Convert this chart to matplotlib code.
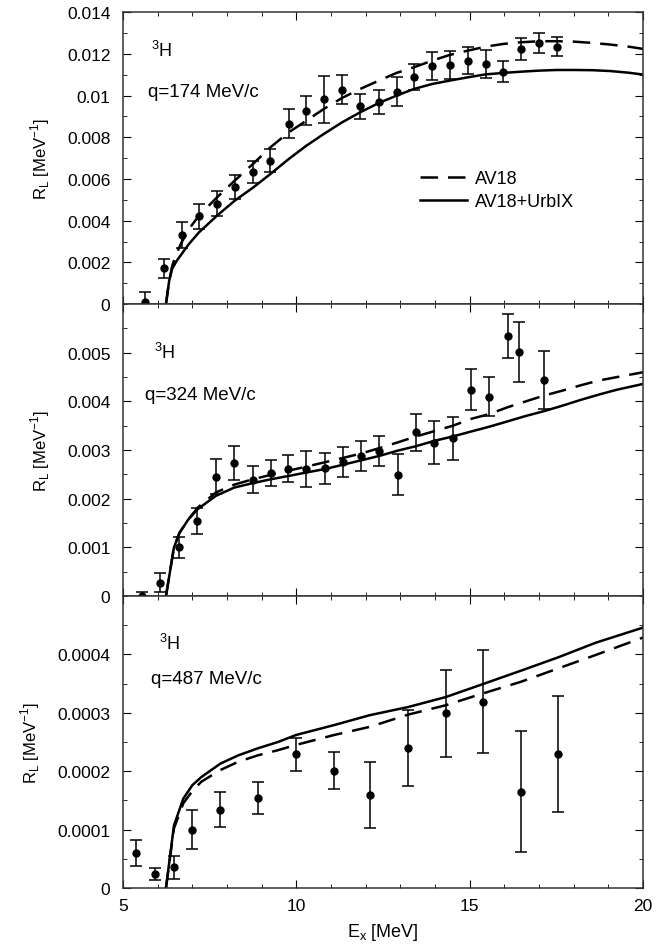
import numpy as np
import matplotlib
matplotlib.use("Agg")
import matplotlib.pyplot as plt
from matplotlib.ticker import MultipleLocator, FuncFormatter

plt.rcParams['font.family'] = ['Liberation Sans', 'DejaVu Sans']

# --- panel 1: q = 174 MeV/c ---
ex1 = [5.63, 6.18, 6.69, 7.19, 7.71, 8.22, 8.76, 9.25, 9.78, 10.29, 10.79, 11.32,
       11.84, 12.38, 12.89, 13.39, 13.92, 14.42, 14.95, 15.46, 15.97, 16.49, 17.01, 17.51]
rl1 = [0.00008, 0.00171, 0.00331, 0.00421, 0.00482, 0.0056, 0.00635, 0.00688, 0.00866,
       0.00928, 0.00982, 0.01029, 0.00949, 0.00968, 0.01019, 0.01088, 0.01141, 0.01147,
       0.01168, 0.01152, 0.01115, 0.01224, 0.01253, 0.01235]
err1 = [0.0005, 0.00046, 0.00064, 0.0006, 0.00059, 0.00058, 0.00052, 0.00054, 0.00069,
        0.00068, 0.00114, 0.0007, 0.00059, 0.00058, 0.0007, 0.00062, 0.00068, 0.00066,
        0.00063, 0.00068, 0.0005, 0.00054, 0.00048, 0.00044]
av18_x1 = [6.24, 6.33, 6.42, 6.55, 6.69, 6.9, 7.19, 7.71, 8.22, 8.76, 9.25, 9.78, 10.29,
           10.79, 11.32, 11.84, 12.38, 12.89, 13.39, 13.92, 14.42, 14.95, 15.46, 15.97,
           16.49, 17.01, 17.51, 18.0, 18.53, 19.05, 19.58, 20.0]
av18_y1 = [0.0, 0.0011, 0.00184, 0.00245, 0.00296, 0.0036, 0.00424, 0.00512, 0.00592,
           0.00674, 0.00752, 0.00824, 0.0088, 0.00936, 0.00989, 0.01032, 0.01072, 0.01109,
           0.01136, 0.01168, 0.01195, 0.01216, 0.01235, 0.01248, 0.01256, 0.01261, 0.01261,
           0.01259, 0.01253, 0.01245, 0.01235, 0.01224]
urb_x1 = [6.24, 6.33, 6.42, 6.55, 6.69, 6.9, 7.19, 7.71, 8.22, 8.76, 9.25, 9.78, 10.29,
          10.79, 11.32, 11.84, 12.38, 12.89, 13.39, 13.92, 14.42, 14.95, 15.46, 15.97,
          16.49, 17.01, 17.51, 18.0, 18.53, 19.05, 19.58, 20.0]
urb_y1 = [0.0, 0.0011, 0.0017, 0.00208, 0.0024, 0.00288, 0.00344, 0.00424, 0.00496,
          0.0056, 0.00624, 0.00696, 0.0076, 0.00816, 0.00872, 0.0092, 0.00965, 0.01,
          0.01032, 0.01056, 0.01072, 0.01088, 0.01102, 0.01109, 0.01115, 0.0112, 0.01123,
          0.01123, 0.01122, 0.01118, 0.0111, 0.01101]

# --- panel 2: q = 324 MeV/c ---
ex2 = [5.56, 6.08, 6.63, 7.13, 7.68, 8.21, 8.74, 9.26, 9.77, 10.29, 10.82, 11.35,
       11.87, 12.39, 12.93, 13.45, 13.98, 14.51, 15.03, 15.56, 16.11, 16.43, 17.14]
rl2 = [0.0, 0.000275, 0.001, 0.00155, 0.00245, 0.00273, 0.00239, 0.00253, 0.00262,
       0.00261, 0.00263, 0.00275, 0.00288, 0.00299, 0.00249, 0.00337, 0.00315, 0.00324,
       0.00424, 0.0041, 0.00534, 0.00501, 0.00444]
err2 = [0.00008, 0.0002, 0.00021, 0.00027, 0.00036, 0.00035, 0.00028, 0.00026, 0.00028,
        0.00037, 0.00032, 0.00031, 0.00031, 0.00031, 0.00042, 0.00038, 0.00044, 0.00045,
        0.00042, 0.0004, 0.00045, 0.00062, 0.00059]
av18_x2 = [6.24, 6.47, 6.63, 6.89, 7.16, 7.68, 8.21, 8.74, 9.26, 9.79, 10.29, 10.82, 11.35,
           11.87, 12.39, 12.93, 13.45, 13.98, 14.51, 15.03, 15.56, 16.09, 16.61, 17.14,
           17.66, 18.19, 18.72, 19.24, 20.0]
av18_y2 = [0.0, 0.001, 0.0013, 0.00158, 0.00182, 0.00213, 0.00229, 0.0024, 0.00249, 0.00258,
           0.00266, 0.00275, 0.00284, 0.00293, 0.00304, 0.00316, 0.00328, 0.00339, 0.0035,
           0.00364, 0.00374, 0.00388, 0.004, 0.00412, 0.00422, 0.00433, 0.00443, 0.0045,
           0.0046]
urb_x2 = [6.24, 6.47, 6.63, 6.89, 7.16, 7.68, 8.21, 8.74, 9.26, 9.79, 10.29, 10.82, 11.35,
          11.87, 12.39, 12.93, 13.45, 13.98, 14.51, 15.03, 15.56, 16.09, 16.61, 17.14,
          17.66, 18.19, 18.72, 19.24, 20.0]
urb_y2 = [0.0, 0.001, 0.0013, 0.00158, 0.00179, 0.00206, 0.00223, 0.00232, 0.0024, 0.00247,
          0.00254, 0.00261, 0.0027, 0.00279, 0.00288, 0.00299, 0.00308, 0.00319, 0.00328,
          0.00338, 0.00348, 0.00359, 0.0037, 0.0038, 0.00391, 0.00403, 0.00414, 0.00424,
          0.00436]

# --- panel 3: q = 487 MeV/c ---
ex3 = [5.38, 5.93, 6.46, 7.0, 7.81, 8.88, 9.99, 11.09, 12.12, 13.23, 14.31, 15.37, 16.47, 17.55]
rl3 = [0.00006, 0.0000234, 0.0000354, 0.0001, 0.000134, 0.000154, 0.000229, 0.000201,
       0.000159, 0.00024, 0.000299, 0.000319, 0.000165, 0.000229]
err3 = [0.000023, 0.00001, 0.00002, 0.000033, 0.00003, 0.000027, 0.000028, 0.000032,
        0.000056, 0.000065, 0.000075, 0.000088, 0.000103, 0.000099]
av18_x3 = [6.24, 6.47, 6.74, 7.0, 7.26, 7.81, 8.32, 8.88, 9.47, 9.99, 11.09, 12.12, 13.23,
           14.31, 15.37, 16.47, 17.55, 18.63, 20.0]
av18_y3 = [0.0, 0.000102, 0.000145, 0.000166, 0.000182, 0.000202, 0.000216, 0.000227,
           0.000236, 0.000245, 0.000262, 0.000276, 0.000297, 0.000313, 0.000333, 0.000353,
           0.000376, 0.000399, 0.000429]
urb_x3 = [6.24, 6.47, 6.74, 7.0, 7.26, 7.81, 8.32, 8.88, 9.47, 9.99, 11.09, 12.12, 13.23,
          14.31, 15.37, 16.47, 17.55, 18.63, 20.0]
urb_y3 = [0.0, 0.000107, 0.000153, 0.000176, 0.00019, 0.000213, 0.000227, 0.000239,
          0.00025, 0.000262, 0.000279, 0.000296, 0.00031, 0.000327, 0.000349, 0.000372,
          0.000395, 0.00042, 0.000446]

q_labels = ['q=174 MeV/c', 'q=324 MeV/c', 'q=487 MeV/c']
y_max = [0.014, 0.006, 0.0005]
y_major = [0.002, 0.001, 0.0001]
y_tick_top = [0.014, 0.005, 0.0004]
nuc_pos = [(0.053, 0.87), (0.06, 0.835), (0.07, 0.84)]
q_pos = [(0.049, 0.73), (0.042, 0.69), (0.053, 0.718)]

panels = [
    (ex1, rl1, err1, av18_x1, av18_y1, urb_x1, urb_y1),
    (ex2, rl2, err2, av18_x2, av18_y2, urb_x2, urb_y2),
    (ex3, rl3, err3, av18_x3, av18_y3, urb_x3, urb_y3),
]

fig, axes = plt.subplots(3, 1, figsize=(6.72, 9.45), dpi=100, sharex=True)
fig.subplots_adjust(left=0.183, right=0.957, bottom=0.0593, top=0.986, hspace=0)

for i, ax in enumerate(axes):
    ex, rl, err, ax_x, ax_y, ub_x, ub_y = panels[i]
    ax.errorbar(ex, rl, yerr=err, fmt='o', color='black', ms=5, elinewidth=1.1,
                capsize=4, capthick=1.1, zorder=3)
    ax.plot(ax_x, ax_y, color='black', lw=1.8, dashes=(7, 4), label='AV18')
    ax.plot(ub_x, ub_y, color='black', lw=1.8, label='AV18+UrbIX')

    ax.set_xlim(5, 20)
    ax.set_ylim(0, y_max[i])
    ax.set_yticks(np.arange(0, y_tick_top[i] + y_major[i] / 2, y_major[i]))
    ax.yaxis.set_minor_locator(MultipleLocator(y_major[i] / 2))
    ax.yaxis.set_major_formatter(FuncFormatter(lambda v, p: '%g' % round(v, 6)))
    ax.xaxis.set_major_locator(MultipleLocator(5))
    ax.xaxis.set_minor_locator(MultipleLocator(1))
    ax.tick_params(which='both', direction='in', top=True, right=True,
                   labelsize=12.5, colors='black')
    ax.tick_params(which='major', length=6)
    ax.tick_params(which='minor', length=3)
    ax.tick_params(axis='y', which='major', pad=9)
    ax.tick_params(axis='x', which='major', pad=7)
    for s in ax.spines.values():
        s.set_linewidth(1.1)
        s.set_color('#333333')

    ax.set_ylabel(r'R$_\mathregular{L}$ [MeV$^\mathregular{-1}$]', fontsize=12, labelpad=11)
    ax.text(nuc_pos[i][0], nuc_pos[i][1], r'$^\mathregular{3}$H', transform=ax.transAxes,
            fontsize=13, va='center')
    ax.text(q_pos[i][0], q_pos[i][1], q_labels[i], transform=ax.transAxes,
            fontsize=13.5, va='center')

axes[0].legend(loc='center left', bbox_to_anchor=(0.54, 0.39), frameon=False,
               fontsize=13, handlelength=2.6, handletextpad=0.45, labelspacing=0.35)
axes[2].set_xlabel(r'E$_\mathregular{x}$ [MeV]', fontsize=13, labelpad=6)

plt.savefig('out.png', dpi=100)
